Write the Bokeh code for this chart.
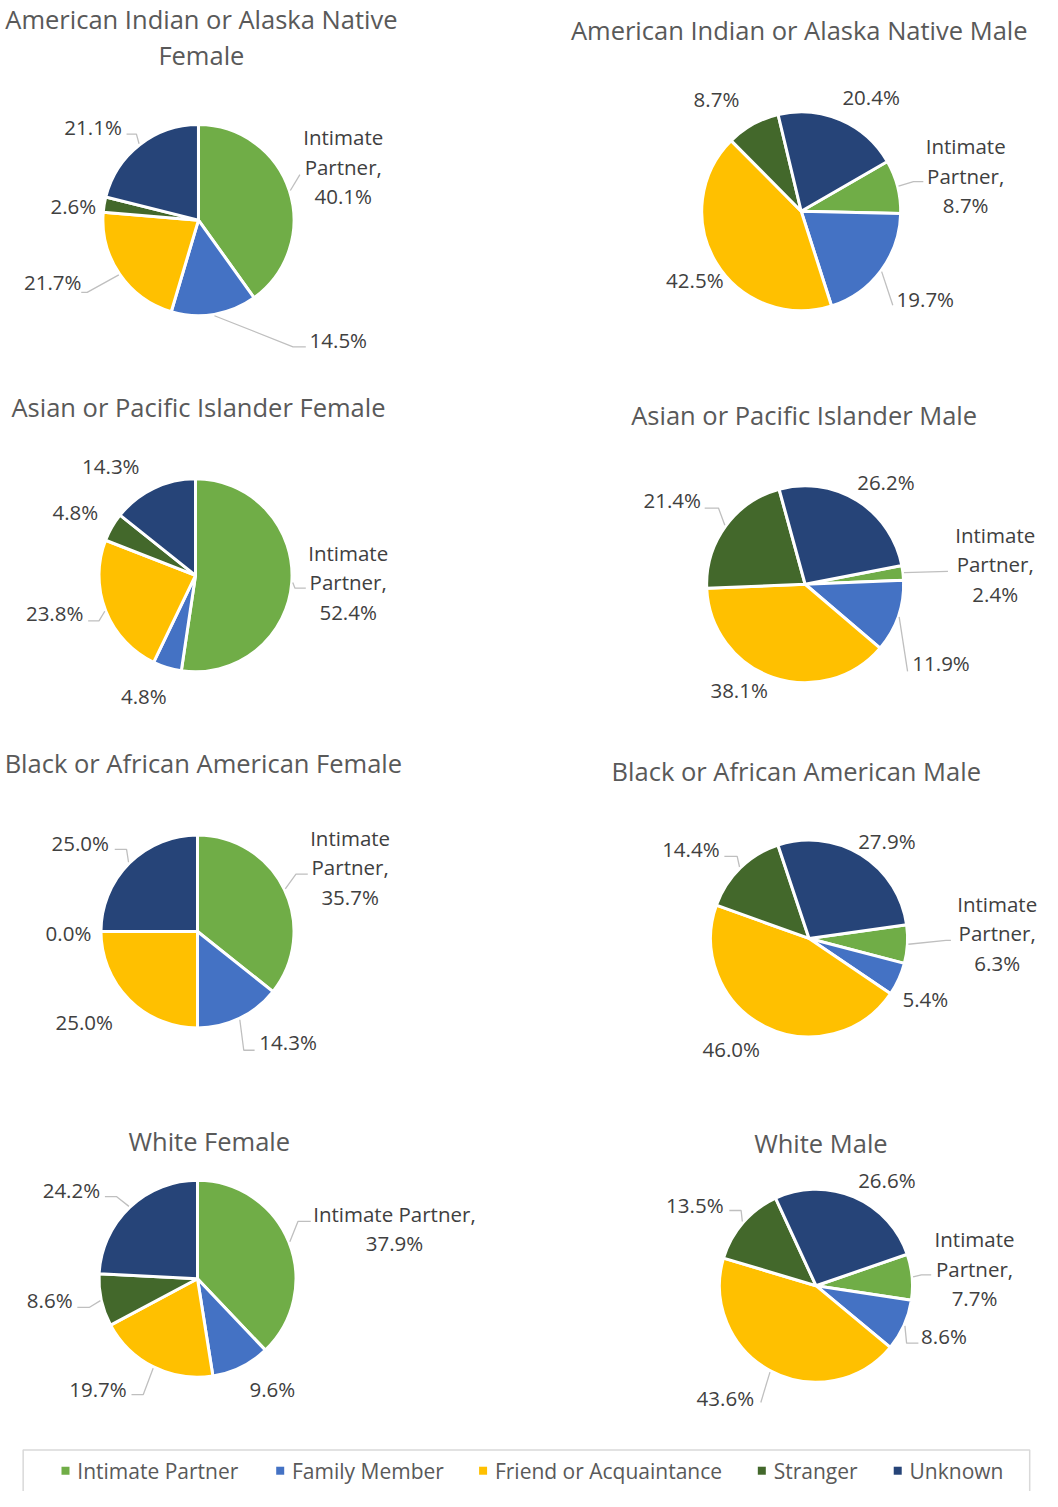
import math
from bokeh.plotting import figure
from bokeh.models import Range1d, ColumnDataSource
from bokeh.embed import file_html
from bokeh.resources import INLINE
from bokeh.core.properties import value

# ---------------- data ----------------
categories = ["Intimate Partner", "Family Member", "Friend or Acquaintance", "Stranger", "Unknown"]
colors = ["#70AD47", "#4472C4", "#FFC000", "#43682B", "#264478"]

chart_titles = [
    "American Indian or Alaska Native\nFemale",
    "American Indian or Alaska Native Male",
    "Asian or Pacific Islander Female",
    "Asian or Pacific Islander Male",
    "Black or African American Female",
    "Black or African American Male",
    "White Female",
    "White Male",
]

aian_female = [40.1, 14.5, 21.7, 2.6, 21.1]
aian_male = [8.7, 19.7, 42.5, 8.7, 20.4]
api_female = [52.4, 4.8, 23.8, 4.8, 14.3]
api_male = [2.4, 11.9, 38.1, 21.4, 26.2]
black_female = [35.7, 14.3, 25.0, 0.0, 25.0]
black_male = [6.3, 5.4, 46.0, 14.4, 27.9]
white_female = [37.9, 9.6, 19.7, 8.6, 24.2]
white_male = [7.7, 8.6, 43.6, 13.5, 26.6]

series = [aian_female, aian_male, api_female, api_male,
          black_female, black_male, white_female, white_male]

# ---------------- layout (reference page units, y downward) ----------------
centers = [(201, 222), (813, 213), (198, 581), (817, 590),
           (200, 941), (821, 948), (200, 1292), (828, 1299)]
radii = [97, 101, 98, 100, 98, 100, 100, 98]
first_angle = [0, 60, 0, 79, 0, 82, 0, 71]
title_pos = [(204, 37), (811, 30), (201, 411), (816, 419),
             (206, 771), (808, 779), (212, 1153), (833, 1155)]
label_off = [
    [(147, -54), (142, 121), (-148, 63), (-127, -14), (-107, -94)],
    [(167, -36), (126, 89), (-108, 69), (-86, -113), (71, -115)],
    [(155, 7), (-52.5, 122), (-143, 38), (-122, -64), (-86, -111)],
    [(193, -20), (138, 80), (-67, 107), (-135, -85), (82, -103)],
    [(155, -65), (92, 112), (-115, 91), (-131, 2), (-119, -89)],
    [(191, -5), (118, 61), (-79, 112), (-120, -90), (79, -98)],
    [(200, -51), (76, 111), (-101, 111), (-150, 21), (-128, -90)],
    [(161, -17), (130, 51), (-92, 113), (-123, -82), (72, -107)],
]
leaders = [
    {0: [(103, -46)], 1: [(96, 128), (109, 128)], 2: [(-113, 73), (-119, 73)], 4: [(-63, -87), (-73, -87)]},
    {0: [(114, -30), (124, -30)], 1: [(93, 95)]},
    {0: [(101, 13), (112, 13)], 2: [(-98, 46), (-109, 46)]},
    {0: [(145, -13)], 1: [(104, 88)], 3: [(-88, -77), (-102, -77)]},
    {0: [(100, -58), (112, -58)], 1: [(47, 120), (58, 120)], 4: [(-72, -83), (-84, -83)]},
    {0: [(139, 2), (144, 2)], 3: [(-73, -83), (-86, -83)]},
    {0: [(102, -58), (115, -58)], 4: [(-82, -83), (-94, -83)], 3: [(-110, 29), (-122, 29)], 2: [(-55, 117), (-67, 117)]},
    {0: [(107, -11), (117, -11)], 1: [(92, 58), (104, 58)], 3: [(-76, -76), (-88, -76)], 2: [(-56, 118)]},
]
ip_wrap = [True, True, True, True, True, True, False, True]
legend_x = [66, 284, 490, 773, 911]
legend_y = 1486

FONT = "Open Sans"
TITLE_C = "#595959"
LABEL_C = "#404040"
LEADER_C = "#BFBFBF"

W, H = 1042, 1491          # canvas pixels
RW, RH = 1058, 1507        # reference page units mapped onto the canvas
p = figure(width=W, height=H, x_range=Range1d(0, RW), y_range=Range1d(-RH, 0),
           output_backend="svg", toolbar_location=None, min_border=0,
           x_axis_location=None, y_axis_location=None, title=None)
p.grid.visible = False
p.outline_line_color = None
p.background_fill_color = "white"

wx, wy, wr, ws, we, wc = [], [], [], [], [], []
lx, ly, lt = [], [], []
lead_xs, lead_ys = [], []

for k, vals in enumerate(series):
    cx, cy = centers[k]
    r = radii[k]
    total = sum(vals)
    cum = 0.0
    for i, v in enumerate(vals):
        a0 = math.radians(first_angle[k]) + 2 * math.pi * cum / total
        a1 = math.radians(first_angle[k]) + 2 * math.pi * (cum + v) / total
        cum += v
        if v > 0:
            wx.append(cx); wy.append(-cy); wr.append(r)
            ws.append(math.pi / 2 - a0); we.append(math.pi / 2 - a1)
            wc.append(colors[i])
        pct = f"{v:.1f}%"
        if i == 0:
            txt = ("Intimate\nPartner,\n" if ip_wrap[k] else "Intimate Partner,\n") + pct
        else:
            txt = pct
        dx, dy = label_off[k][i]
        lx.append(cx + dx); ly.append(-(cy + dy)); lt.append(txt)
        if i in leaders[k]:
            am = (a0 + a1) / 2
            sx = cx + (r + 1) * math.sin(am)
            sy = cy - (r + 1) * math.cos(am)
            xs = [sx] + [cx + px for px, _ in leaders[k][i]]
            ys = [-sy] + [-(cy + py) for _, py in leaders[k][i]]
            lead_xs.append(xs); lead_ys.append(ys)

p.wedge(x="x", y="y", radius="r", start_angle="s", end_angle="e", direction="clock",
        fill_color="c", line_color="white", line_width=3,
        source=ColumnDataSource(dict(x=wx, y=wy, r=wr, s=ws, e=we, c=wc)))

p.multi_line(xs=lead_xs, ys=lead_ys, line_color=LEADER_C, line_width=1.3)

p.text(x=lx, y=ly, text=lt, text_font=value(FONT), text_font_size="20.5px",
       text_color=LABEL_C, text_align="center", text_baseline="middle",
       text_line_height=1.05)

p.text(x=[t[0] for t in title_pos], y=[-t[1] for t in title_pos], text=chart_titles,
       text_font=value(FONT), text_font_size="25.5px", text_color=TITLE_C,
       text_align="center", text_baseline="middle", text_line_height=1.05)

# legend
p.quad(left=[23], right=[1045], top=[-1465], bottom=[-1560], fill_color=None,
       line_color="#D9D9D9", line_width=1.5)
p.scatter(x=legend_x, y=[-legend_y] * 5, marker="square", size=8, fill_color=colors,
          line_color=None)
p.text(x=[x + 12 for x in legend_x], y=[-legend_y] * 5, text=categories,
       text_font=value(FONT), text_font_size="21px", text_color=TITLE_C,
       text_align="left", text_baseline="middle")

open("out.html", "w").write(file_html(p, INLINE))
